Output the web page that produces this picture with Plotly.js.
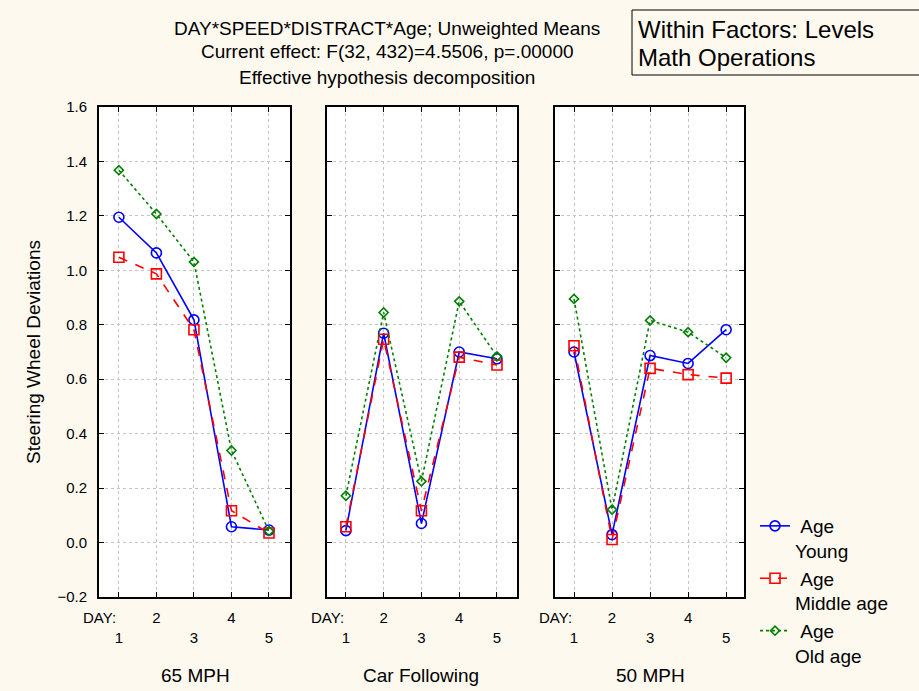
<!DOCTYPE html>
<html><head><meta charset="utf-8">
<script src="https://cdn.plot.ly/plotly-3.0.1.min.js"></script>
<style>html,body{margin:0;padding:0;background:#fdf9ef;}</style>
</head><body><div id="chart" style="width:919px;height:691px;"></div>
<script>
const days = [1, 2, 3, 4, 5];
const dayLabels = ['<br>1', '2', '<br>3', '4', '<br>5'];
const panels = ['65 MPH', 'Car Following', '50 MPH'];
const seriesNames = ['\u00a0Age<br>Young', '\u00a0Age<br>Middle age', '\u00a0Age<br>Old age'];
// values per panel (65 MPH, Car Following, 50 MPH)
const young65 = [1.195, 1.064, 0.818, 0.058, 0.046];
const youngCar = [0.044, 0.769, 0.070, 0.700, 0.675];
const young50 = [0.700, 0.029, 0.687, 0.658, 0.782];
const middle65 = [1.048, 0.987, 0.782, 0.117, 0.035];
const middleCar = [0.058, 0.747, 0.117, 0.681, 0.652];
const middle50 = [0.723, 0.011, 0.640, 0.617, 0.604];
const old65 = [1.368, 1.207, 1.031, 0.338, 0.042];
const oldCar = [0.172, 0.845, 0.225, 0.886, 0.684];
const old50 = [0.895, 0.121, 0.816, 0.773, 0.679];

const titleLines = ['DAY*SPEED*DISTRACT*Age; Unweighted Means',
  'Current effect: F(32, 432)=4.5506, p=.00000',
  'Effective hypothesis decomposition'];
const boxLines = ['Within Factors: Levels', 'Math Operations'];

const FONT = 'Arial, "Liberation Sans", sans-serif';
const W = 919, H = 691;
const L = 99, R = 744, T = 107, B = 597;
const px = x => (x - L) / (R - L);
const py = y => (B - y) / (B - T);

const styles = [
  {color: '#0000ff', dash: 'solid', symbol: 'circle-open', size: 10},
  {color: '#ff0000', dash: 'dash', symbol: 'square-open', size: 10},
  {color: '#008000', dash: 'dot', symbol: 'diamond-open', size: 7}
];
const dataByPanel = [
  [young65, middle65, old65],
  [youngCar, middleCar, oldCar],
  [young50, middle50, old50]
];
const xNames = ['x', 'x2', 'x3'];
const yNames = ['y', 'y2', 'y3'];
const traces = [];
dataByPanel.forEach((ps, pi) => {
  ps.forEach((vals, si) => {
    const s = styles[si];
    traces.push({
      x: days, y: vals, type: 'scatter', mode: 'lines+markers',
      name: seriesNames[si],
      showlegend: pi === 0,
      xaxis: xNames[pi], yaxis: yNames[pi],
      line: {color: s.color, dash: s.dash, width: 1.6},
      marker: {symbol: s.symbol, size: s.size, color: s.color, line: {color: s.color, width: 1.6}}
    });
  });
});

const domains = [[px(99), px(290)], [px(327), px(517)], [px(555), px(744)]];
const ranges = [[0.47, 5.56], [0.5, 5.53], [0.5, 5.47]];
const frame = {
  ticks: 'inside', ticklen: 5, tickcolor: '#000', tickwidth: 1,
  showline: true, linecolor: '#000', linewidth: 2, mirror: 'ticks',
  showgrid: true, gridcolor: '#c4c4c4', griddash: 'dot', gridwidth: 1,
  zeroline: false, fixedrange: true, automargin: false
};
const layout = {
  width: W, height: H,
  paper_bgcolor: '#fdf9ef', plot_bgcolor: '#ffffff',
  margin: {l: L, r: W - R, t: T, b: H - B, autoexpand: false},
  showlegend: true,
  legend: {x: px(755), y: py(507), xanchor: 'left', yanchor: 'top',
    bgcolor: 'rgba(0,0,0,0)', font: {family: FONT, size: 19, color: '#000'},
    valign: 'top', itemwidth: 30},
  annotations: [],
  shapes: [
    {type: 'rect', xref: 'paper', yref: 'paper', x0: px(632), x1: px(930), y0: py(10), y1: py(75),
     line: {color: '#000', width: 1}, fillcolor: 'rgba(0,0,0,0)'}
  ]
};
for (let i = 0; i < 3; i++) {
  const xk = i === 0 ? 'xaxis' : 'xaxis' + (i + 1);
  const yk = i === 0 ? 'yaxis' : 'yaxis' + (i + 1);
  layout[xk] = Object.assign({}, frame, {
    domain: domains[i], range: ranges[i], anchor: yNames[i],
    tickmode: 'array', tickvals: days, ticktext: dayLabels,
    ticklabelstandoff: 6,
    tickfont: {family: FONT, size: 15, color: '#000'}
  });
  layout[yk] = Object.assign({}, frame, {
    range: [-0.2, 1.6], dtick: 0.2, tick0: 0, tickformat: '.1f',
    anchor: xNames[i], showticklabels: i === 0,
    ticklabelstandoff: 7,
    tickfont: {family: FONT, size: 15, color: '#000'}
  });
}
layout.yaxis.title = {text: 'Steering Wheel Deviations', font: {family: FONT, size: 19, color: '#000'}, standoff: 12};

const titleY = [28, 52, 78];
titleLines.forEach((t, i) => layout.annotations.push({
  text: t, xref: 'paper', yref: 'paper', x: px(387), y: py(titleY[i]),
  xanchor: 'center', yanchor: 'middle', showarrow: false,
  font: {family: FONT, size: 19, color: '#000'}
}));
const boxY = [30, 58];
boxLines.forEach((t, i) => layout.annotations.push({
  text: t, xref: 'paper', yref: 'paper', x: px(636), y: py(boxY[i]),
  xanchor: 'left', yanchor: 'middle', showarrow: false,
  font: {family: FONT, size: 24, color: '#000'}
}));
const panelCX = [195, 421, 650];
const dayRight = [118, 346, 574];
panels.forEach((p, i) => {
  layout.annotations.push({
    text: p, xref: 'paper', yref: 'paper', x: px(panelCX[i]), y: py(675),
    xanchor: 'center', yanchor: 'middle', showarrow: false,
    font: {family: FONT, size: 19, color: '#000'}
  });
  layout.annotations.push({
    text: 'DAY:', xref: 'paper', yref: 'paper', x: px(dayRight[i]), y: py(617),
    xanchor: 'right', yanchor: 'middle', showarrow: false,
    font: {family: FONT, size: 15, color: '#000'}
  });
});
Plotly.newPlot('chart', traces, layout, {displayModeBar: false, staticPlot: true});
</script></body></html>
